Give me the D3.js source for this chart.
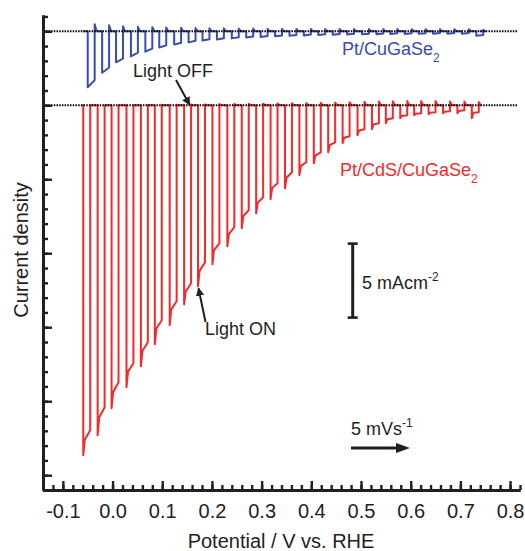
<!DOCTYPE html>
<html>
<head>
<meta charset="utf-8">
<script src="https://cdn.jsdelivr.net/npm/d3@7"></script>
<style>
  html, body { margin: 0; padding: 0; background: #fff; }
  svg { display: block; }
  text { font-family: "Liberation Sans", Arial, sans-serif; fill: #231f20; }
</style>
</head>
<body>
<svg id="chart" width="525" height="551"></svg>
<script>
// ---------- data ----------
// x: potential (V vs. RHE); y: current density (mA cm^-2)
const xMajorTicks = [-0.1, 0.0, 0.1, 0.2, 0.3, 0.4, 0.5, 0.6, 0.7, 0.8];
const xTickLabels = ["-0.1", "0.0", "0.1", "0.2", "0.3", "0.4", "0.5", "0.6", "0.7", "0.8"];

// Pt/CdS/CuGaSe2 (red) — potential at which light is switched ON
const redOn = [-0.059, -0.030, -0.002, 0.028, 0.057, 0.085, 0.115, 0.144, 0.172, 0.201,
               0.231, 0.260, 0.289, 0.318, 0.347, 0.376, 0.405, 0.434, 0.463, 0.493,
               0.522, 0.550, 0.579, 0.607, 0.636, 0.665, 0.694, 0.723];
const redPeak = [-23.65, -22.30, -20.47, -19.05, -17.64, -16.15, -14.86, -13.45, -12.23, -10.74,
                 -9.53, -8.31, -7.30, -6.35, -5.61, -4.73, -3.92, -3.18, -2.57, -2.03,
                 -1.62, -1.22, -0.88, -0.68, -0.61, -0.54, -0.54, -0.88];
const redKink = [-22.6, -21.1, -19.4, -18.0, -16.6, -15.1, -13.8, -12.6, -11.2, -9.8,
                 -8.7, -7.5, -6.6, -5.6, -4.9, -4.1, -3.4, -2.7, -2.2, -1.7,
                 -1.3, -0.95, -0.72, -0.57, -0.50, -0.43, -0.38, -0.50];
const redSteady = [-21.96, -20.41, -18.72, -17.43, -16.01, -14.53, -13.24, -12.03, -10.61, -9.32,
                   -8.24, -7.09, -6.22, -5.27, -4.53, -3.85, -3.18, -2.50, -2.09, -1.62,
                   -1.22, -0.88, -0.68, -0.54, -0.47, -0.41, -0.34, -0.47];
const redOvershoot = [0, 0, 0, 0, 0.02, 0.03, 0.04, 0.05, 0.06, 0.08,
                      0.09, 0.1, 0.11, 0.12, 0.13, 0.15, 0.17, 0.19, 0.21, 0.23,
                      0.25, 0.27, 0.28, 0.28, 0.28, 0.26, 0.25, 0.22];
const redStart = -0.062, redEnd = 0.739;

// Pt/CuGaSe2 (blue), drawn offset by +5 mA cm^-2
const blueOn = [-0.050, -0.021, 0.007, 0.037, 0.066, 0.094, 0.124, 0.153, 0.181, 0.210,
                0.240, 0.269, 0.298, 0.327, 0.356, 0.385, 0.414, 0.443, 0.472, 0.502,
                0.531, 0.559, 0.588, 0.616, 0.645, 0.674, 0.703, 0.732];
const bluePeak = [-3.78, -2.80, -2.10, -1.70, -1.38, -1.10, -0.90, -0.75, -0.63, -0.55,
                  -0.48, -0.42, -0.38, -0.34, -0.30, -0.28, -0.25, -0.23, -0.22, -0.20,
                  -0.20, -0.18, -0.18, -0.17, -0.17, -0.16, -0.16, -0.30];
const blueSteady = [-3.30, -2.45, -1.85, -1.45, -1.17, -0.95, -0.77, -0.64, -0.54, -0.47,
                    -0.41, -0.36, -0.32, -0.28, -0.25, -0.22, -0.20, -0.18, -0.17, -0.16,
                    -0.15, -0.14, -0.13, -0.13, -0.12, -0.12, -0.12, -0.25];
const blueOvershoot = [0.47, 0.40, 0.34, 0.30, 0.27, 0.25, 0.23, 0.22, 0.20, 0.20,
                       0.18, 0.18, 0.17, 0.17, 0.16, 0.16, 0.15, 0.15, 0.15, 0.15,
                       0.15, 0.15, 0.14, 0.14, 0.14, 0.14, 0.14, 0.10];
const blueStart = -0.059, blueEnd = 0.739;
const blueOffset = 5;

const lightOnDuration = 0.014;   // V (chopping half-period)
const scaleBarValue = 5;         // mA cm^-2

// ---------- layout ----------
const svg = d3.select("#chart");
const x = d3.scaleLinear().domain([-0.14, 0.82]).range([43, 520]);
const y = d3.scaleLinear().domain([-26, 6.1]).range([490, 15]);
const RED = "#f42a2a", BLUE = "#3a4dab", INK = "#231f20";

// ---------- traces ----------
function tracePoints(on, peak, kink, steady, over, start, end) {
  const pts = [[start, 0]];
  on.forEach((o, i) => {
    const f = o + lightOnDuration;
    pts.push([o, 0], [o, peak[i]]);
    if (kink) pts.push([o + lightOnDuration * 0.22, kink[i]]);
    pts.push([f, steady[i]], [f, over[i]], [f + 0.004, 0]);
  });
  pts.push([end, 0]);
  return pts;
}
function lineGen(offset) {
  return d3.line().x(d => x(d[0])).y(d => y(d[1] + offset));
}

svg.append("path")
  .attr("d", lineGen(blueOffset)(tracePoints(blueOn, bluePeak, null, blueSteady, blueOvershoot, blueStart, blueEnd)))
  .attr("fill", "none").attr("stroke", BLUE).attr("stroke-width", 2)
  .attr("stroke-linejoin", "round");

svg.append("path")
  .attr("d", lineGen(0)(tracePoints(redOn, redPeak, redKink, redSteady, redOvershoot, redStart, redEnd)))
  .attr("fill", "none").attr("stroke", RED).attr("stroke-width", 2)
  .attr("stroke-linejoin", "round");

// dotted zero lines
[0, blueOffset].forEach(v => {
  svg.append("line")
    .attr("x1", x(-0.14)).attr("x2", x(0.815))
    .attr("y1", y(v)).attr("y2", y(v))
    .attr("stroke", "#000").attr("stroke-width", 2)
    .attr("stroke-dasharray", "1.5,1.2");
});

// ---------- axes ----------
const xMinor = d3.range(-0.14, 0.8201, 0.02).map(v => +v.toFixed(2));
const yMinor = d3.range(-26, 6.01, 1);
const yMajor = [-25, -20, -15, -10, -5, 0, 5];

function styleAxis(g) {
  g.select(".domain").attr("stroke", INK).attr("stroke-width", 3);
  g.selectAll(".tick line").attr("stroke", INK).attr("stroke-width", 2.4);
}

// x minor
svg.append("g").attr("transform", "translate(0,490)")
  .call(d3.axisBottom(x).tickValues(xMinor).tickSize(-5).tickSizeOuter(0).tickFormat(""))
  .call(styleAxis);
// x major + labels
const gx = svg.append("g").attr("transform", "translate(0,490)")
  .call(d3.axisBottom(x).tickValues(xMajorTicks).tickSize(-9).tickSizeOuter(0).tickPadding(14)
        .tickFormat((d, i) => xTickLabels[i]))
  .call(styleAxis);
gx.selectAll("text").attr("font-size", 20).attr("fill", INK)
  .style("font-family", '"Liberation Sans", Arial, sans-serif');

// y minor / major (no labels)
svg.append("g").attr("transform", "translate(43,0)")
  .call(d3.axisLeft(y).tickValues(yMinor).tickSize(-5).tickSizeOuter(0).tickFormat(""))
  .call(styleAxis);
svg.append("g").attr("transform", "translate(43,0)")
  .call(d3.axisLeft(y).tickValues(yMajor).tickSize(-9).tickSizeOuter(0).tickFormat(""))
  .call(styleAxis);

// axis titles
svg.append("text").attr("x", 281).attr("y", 548).attr("text-anchor", "middle")
  .attr("font-size", 20).text("Potential / V vs. RHE");
svg.append("text").attr("transform", "translate(28,250) rotate(-90)")
  .attr("text-anchor", "middle").attr("font-size", 20).text("Current density");

// ---------- annotations ----------
const defs = svg.append("defs");
defs.append("marker").attr("id", "ah").attr("viewBox", "0 0 10 10")
  .attr("refX", 9).attr("refY", 5).attr("markerWidth", 4.2).attr("markerHeight", 4.2)
  .attr("markerUnits", "strokeWidth").attr("orient", "auto")
  .append("path").attr("d", "M0,0 L10,5 L0,10 Z").attr("fill", INK);

function arrow(x1, y1, x2, y2, w) {
  svg.append("line").attr("x1", x1).attr("y1", y1).attr("x2", x2).attr("y2", y2)
    .attr("stroke", INK).attr("stroke-width", w).attr("marker-end", "url(#ah)");
}

// Light OFF
svg.append("text").attr("x", 133).attr("y", 77).attr("font-size", 18).text("Light OFF");
arrow(176, 80, x(0.155), y(0) - 0.5, 2);
// Light ON
svg.append("text").attr("x", 205).attr("y", 335).attr("font-size", 18).text("Light ON");
arrow(205.5, 322, x(redOn[8]) + 0.5, y(redPeak[8]) + 2, 2);

// series labels
const lb = svg.append("text").attr("x", 342).attr("y", 55).attr("font-size", 18).style("fill", BLUE);
lb.append("tspan").text("Pt/CuGaSe");
lb.append("tspan").attr("font-size", 12).attr("dy", 7).text("2");

const lr = svg.append("text").attr("x", 340).attr("y", 176).attr("font-size", 18).style("fill", RED);
lr.append("tspan").text("Pt/CdS/CuGaSe");
lr.append("tspan").attr("font-size", 12).attr("dy", 7).text("2");

// scale bar 5 mA cm^-2
const sbX = x(0.4833), sbTop = -9.35;
svg.append("line").attr("x1", sbX).attr("x2", sbX)
  .attr("y1", y(sbTop)).attr("y2", y(sbTop - scaleBarValue))
  .attr("stroke", INK).attr("stroke-width", 3);
[sbTop, sbTop - scaleBarValue].forEach(v => {
  svg.append("line").attr("x1", sbX - 5).attr("x2", sbX + 5)
    .attr("y1", y(v)).attr("y2", y(v)).attr("stroke", INK).attr("stroke-width", 2.6);
});
const ts = svg.append("text").attr("x", 362).attr("y", 289).attr("font-size", 18);
ts.append("tspan").text("5 mAcm");
ts.append("tspan").attr("font-size", 12).attr("dy", -8).text("-2");

// scan rate
const tv = svg.append("text").attr("x", 351).attr("y", 435).attr("font-size", 18);
tv.append("tspan").text("5 mVs");
tv.append("tspan").attr("font-size", 12).attr("dy", -8).text("-1");
svg.append("line").attr("x1", 351).attr("x2", 398).attr("y1", 448).attr("y2", 448)
  .attr("stroke", INK).attr("stroke-width", 3);
svg.append("path").attr("d", "M396,443 L410,448 L396,453 Z").attr("fill", INK);
</script>
</body>
</html>
